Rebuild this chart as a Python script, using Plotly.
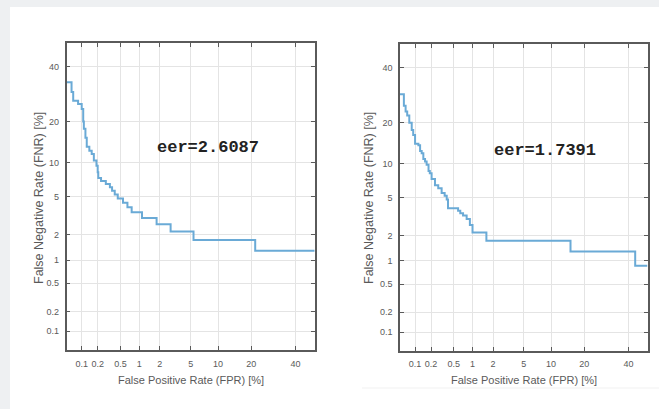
from statistics import NormalDist
import plotly.graph_objects as go

# DET curves (percent), stepwise: each FNR level holds from its FPR to the next FPR
fpr_a = [0.05, 0.063, 0.068, 0.085, 0.10, 0.107, 0.11, 0.118, 0.125, 0.14, 0.155, 0.17, 0.19,
         0.20, 0.205, 0.23, 0.28, 0.33, 0.36, 0.40, 0.45, 0.55, 0.65, 0.76, 1.1, 1.8,
         2.8, 5.4, 21.5, 50.0]
fnr_a = [33.7, 30.0, 26.8, 25.7, 24.0, 20.0, 17.9, 15.5, 13.3, 12.4, 11.7, 10.4, 9.4,
         8.3, 7.4, 6.96, 6.52, 6.09, 5.65, 5.22, 4.78, 4.35, 3.91, 3.48, 3.04, 2.61,
         2.17, 1.74, 1.30, 1.30]

fpr_b = [0.05, 0.06, 0.065, 0.07, 0.077, 0.086, 0.092, 0.10, 0.116, 0.125, 0.134, 0.144,
         0.155, 0.166, 0.18, 0.19, 0.205, 0.236, 0.27, 0.31, 0.35, 0.38, 0.40, 0.59,
         0.64, 0.71, 0.81, 0.91, 1.0, 1.61, 15.3, 43.5, 50.0]
fnr_b = [29.6, 25.5, 23.5, 22.2, 20.0, 17.9, 16.5, 14.3, 13.9, 12.6, 12.1, 10.9,
         10.4, 9.8, 8.7, 8.3, 7.4, 6.5, 6.1, 5.5, 5.2, 4.78, 3.91, 3.7,
         3.48, 3.3, 3.04, 2.61, 2.17, 1.74, 1.30, 0.87, 0.87]

eer_a = "eer=2.6087"
eer_b = "eer=1.7391"

tick_pct = [0.1, 0.2, 0.5, 1, 2, 5, 10, 20, 40]
tick_txt = ["0.1", "0.2", "0.5", "1", "2", "5", "10", "20", "40"]
lim_pct = [0.05, 50.0]

nd = NormalDist()


def probit(values):
    # normal-deviate scale used by DET plots
    return [nd.inv_cdf(v / 100.0) for v in values]


W, H = 659, 409
line_col = "#6aaad6"
axis_col = "#5a5a5a"
tick_font = dict(family="Liberation Sans, Arial, sans-serif", size=9, color="#5a5a5a")
xtitle_font = dict(family="Liberation Sans, Arial, sans-serif", size=11, color="#5a5a5a")
ytitle_font = dict(family="Liberation Sans, Arial, sans-serif", size=12.5, color="#5a5a5a")

fig = go.Figure()
fig.add_trace(go.Scatter(x=probit(fpr_a), y=probit(fnr_a), mode="lines",
                         line=dict(color=line_col, width=2, shape="hv"),
                         xaxis="x", yaxis="y", showlegend=False))
fig.add_trace(go.Scatter(x=probit(fpr_b), y=probit(fnr_b), mode="lines",
                         line=dict(color=line_col, width=2, shape="hv"),
                         xaxis="x2", yaxis="y2", showlegend=False))

rng = probit(lim_pct)
tv = probit(tick_pct)


def axis_style(domain, anchor):
    return dict(domain=domain, anchor=anchor, range=rng, tickvals=tv, ticktext=tick_txt,
                showgrid=True, gridcolor="#e4e4e4", gridwidth=1, zeroline=False,
                showline=True, linecolor=axis_col, linewidth=1.5, mirror="allticks",
                ticks="inside", ticklen=4, tickcolor=axis_col, tickwidth=1,
                tickfont=tick_font, ticklabelstandoff=4, fixedrange=True)


xa_dom = [66.6 / W, 314.7 / W]
xb_dom = [400.0 / W, 647.5 / W]
ya_dom = [1 - 350.0 / H, 1 - 43.0 / H]
yb_dom = [1 - 350.7 / H, 1 - 44.3 / H]

fig.update_layout(
    width=W, height=H, margin=dict(l=0, r=0, t=0, b=0),
    paper_bgcolor="#eef0f2", plot_bgcolor="white",
    xaxis=axis_style(xa_dom, "y"), yaxis=axis_style(ya_dom, "x"),
    xaxis2=axis_style(xb_dom, "y2"), yaxis2=axis_style(yb_dom, "x2"),
    shapes=[
        dict(type="rect", xref="paper", yref="paper", x0=10 / W, x1=1, y0=0, y1=1 - 7 / H,
             fillcolor="white", line=dict(width=0), layer="below"),
        dict(type="line", xref="paper", yref="paper", x0=362 / W, x1=1,
             y0=1 - 388 / H, y1=1 - 388 / H, line=dict(color="#f1f1f1", width=1),
             layer="below"),
    ],
)

ann = []
for xc, yc, txt in [((66.6 + 314.7) / 2, 380, "False Positive Rate (FPR) [%]"),
                    ((400 + 647.5) / 2, 380, "False Positive Rate (FPR) [%]")]:
    ann.append(dict(x=xc / W, y=1 - yc / H, xref="paper", yref="paper", text=txt,
                    showarrow=False, font=xtitle_font, xanchor="center", yanchor="middle"))
for xc, yc in [(39, 198), (369, 198)]:
    ann.append(dict(x=xc / W, y=1 - yc / H, xref="paper", yref="paper",
                    text="False Negative Rate (FNR) [%]", textangle=-90,
                    showarrow=False, font=ytitle_font, xanchor="center", yanchor="middle"))
for xc, yc, txt in [(208, 147, eer_a), (545, 150, eer_b)]:
    ann.append(dict(x=xc / W, y=1 - yc / H, xref="paper", yref="paper",
                    text="<b>" + txt + "</b>", showarrow=False,
                    font=dict(family="Liberation Mono, Courier New, monospace", size=17,
                              color="#222222"),
                    xanchor="center", yanchor="middle"))
fig.update_layout(annotations=ann)

fig.write_html("out.html")
